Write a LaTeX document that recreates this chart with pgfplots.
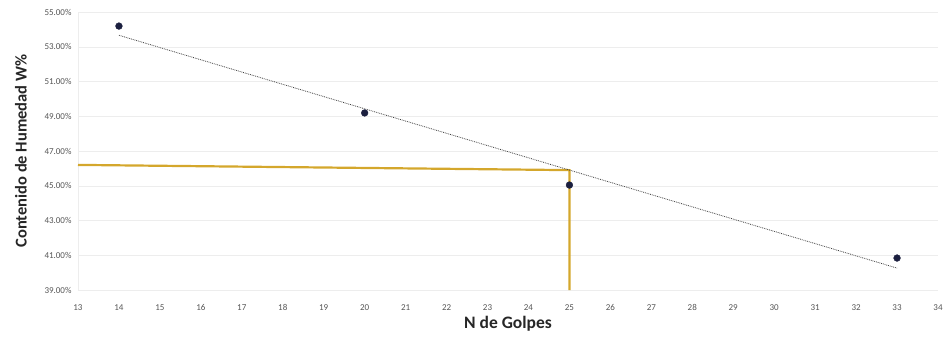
\documentclass[border=0pt]{standalone}
\usepackage{fontspec}
\setmainfont{Carlito}
\usepackage{pgfplots}
\pgfplotsset{compat=1.18}
\definecolor{ptcol}{HTML}{1B1F3F}
\definecolor{gold}{HTML}{D4A72C}
\definecolor{tickcol}{HTML}{555555}
\definecolor{gridc}{HTML}{EDEDED}
\begin{document}
\begin{tikzpicture}
\useasboundingbox (-78pt,-48pt) rectangle (869pt,290pt);
\begin{axis}[
  scale only axis,
  width=860pt, height=278pt,
  xmin=13, xmax=34, ymin=39, ymax=55,
  xtick={13,14,...,34},
  ytick={39,41,...,55},
  /pgf/number format/assume math mode=true,
  yticklabel={\pgfmathprintnumber[fixed,fixed zerofill,precision=2]{\tick}\%},
  tick label style={font=\fontsize{9}{10}\selectfont, text=tickcol},
  xticklabel style={anchor=base, yshift=-20pt},
  yticklabel style={xshift=-3pt},
  axis line style={draw=gridc},
  axis x line*=bottom, axis y line*=left,
  major tick length=0pt,
  ymajorgrids, grid style={draw=gridc, line width=0.5pt},
  xlabel={\textbf{N de Golpes}},
  ylabel={\textbf{Contenido de Humedad W\%}},
  xlabel style={font=\fontsize{17.5}{19}\selectfont, text=black!85, yshift=1pt},
  ylabel style={font=\fontsize{16.5}{18}\selectfont, text=black!85, yshift=11pt},
  clip=false,
]
\addplot[gold, line width=2.2pt] coordinates {(13,46.2) (25,45.9) (25,39)};
\addplot[black!75, line width=0.8pt, densely dotted] coordinates {(14,53.66) (33,40.26)};
\addplot[only marks, mark=*, mark size=3.4pt, color=ptcol] coordinates {
(14,54.19) (20,49.19) (25,45.04) (33,40.84)};
\end{axis}
\end{tikzpicture}
\end{document}
